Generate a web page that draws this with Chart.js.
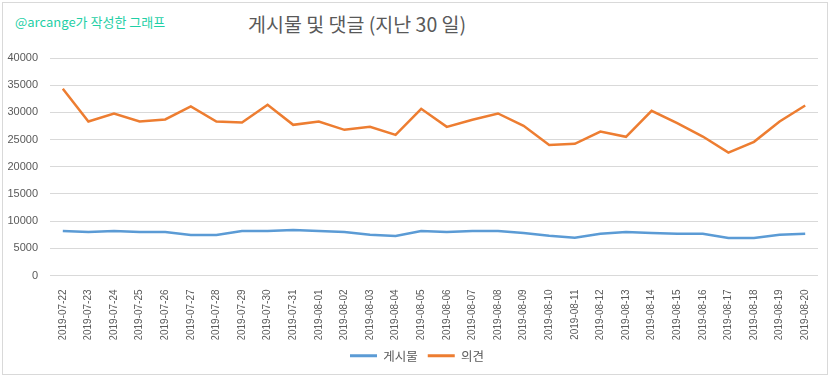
<!DOCTYPE html>
<html><head><meta charset="utf-8">
<script src="https://cdn.jsdelivr.net/npm/chart.js@4"></script>
<style>
html,body{margin:0;padding:0;background:#fff;}
#wrap{position:relative;width:832px;height:378px;}
#frame{position:absolute;left:2px;top:2px;width:826px;height:373px;border:1px solid #d9d9d9;box-sizing:border-box;}
#mark{position:absolute;left:15px;top:14px;font-family:"Noto Sans CJK KR","Noto Sans",sans-serif;font-size:13px;line-height:16px;color:#1fcfa6;}
#title{position:absolute;left:248px;top:11px;font-family:"Noto Sans CJK KR",sans-serif;font-size:19.5px;line-height:26px;color:#595959;white-space:nowrap;}
canvas{position:absolute;left:0;top:0;}
</style></head>
<body><div id="wrap"><div id="frame"></div><div id="mark">@arcange가 작성한 그래프</div><div id="title"></div><canvas id="c" width="832" height="378"></canvas></div>
<script>
const categories = ["2019-07-22","2019-07-23","2019-07-24","2019-07-25","2019-07-26","2019-07-27","2019-07-28","2019-07-29","2019-07-30","2019-07-31","2019-08-01","2019-08-02","2019-08-03","2019-08-04","2019-08-05","2019-08-06","2019-08-07","2019-08-08","2019-08-09","2019-08-10","2019-08-11","2019-08-12","2019-08-13","2019-08-14","2019-08-15","2019-08-16","2019-08-17","2019-08-18","2019-08-19","2019-08-20"];
const posts = [8170,7990,8170,7990,7990,7430,7430,8170,8170,8360,8170,7990,7500,7250,8170,7990,8170,8170,7800,7310,6940,7680,7990,7800,7680,7680,6880,6880,7500,7680];
const comments = [34350,28330,29800,28330,28700,31090,28330,28140,31400,27710,28330,26790,27340,25870,30660,27340,28630,29800,27530,24020,24210,26480,25500,30290,28020,25560,22610,24580,28330,31270];
const yTicks = [0,5000,10000,15000,20000,25000,30000,35000,40000];
const seriesNames = ["게시물","의견"];
const titleText = "게시물 및 댓글 (지난 30 일)";
document.getElementById('title').textContent = titleText;

const shiftLegend = {id:'shiftLegend', afterLayout(chart){ const l=chart.legend; if(l){ l.left+=8; l.right+=8; } }};
const tickFont = {family:"'Liberation Sans','Noto Sans',sans-serif", size:11};
new Chart(document.getElementById('c'), {
  type:'line',
  data:{labels:categories, datasets:[
    {label:seriesNames[0], data:posts, borderColor:'#5b9bd5', backgroundColor:'#5b9bd5', borderWidth:2.5, pointRadius:0, tension:0},
    {label:seriesNames[1], data:comments, borderColor:'#ed7d31', backgroundColor:'#ed7d31', borderWidth:2.5, pointRadius:0, tension:0}
  ]},
  plugins:[shiftLegend],
  options:{
    responsive:false, animation:false, devicePixelRatio:1,
    layout:{padding:{left:0, right:14, top:58, bottom:6}},
    plugins:{
      title:{display:false},
      legend:{position:'bottom', labels:{color:'#595959', font:{family:"'Noto Sans CJK KR',sans-serif", size:12.5}, boxWidth:27, boxHeight:3, padding:10,
        generateLabels:(chart)=>chart.data.datasets.map((d,i)=>({text:d.label, fillStyle:d.borderColor, strokeStyle:d.borderColor, lineWidth:0, fontColor:'#595959', datasetIndex:i, hidden:false}))}},
      tooltip:{enabled:false}
    },
    scales:{
      x:{offset:true, grid:{display:false}, border:{display:false},
         afterFit:(s)=>{s.height=64;},
         ticks:{color:'#595959', font:{family:"'Liberation Sans',sans-serif", size:10}, maxRotation:90, minRotation:90, autoSkip:false, padding:6}},
      y:{min:0, max:40000, afterBuildTicks:(s)=>{s.ticks=yTicks.map(v=>({value:v}));},
         afterFit:(s)=>{s.width=50;},
         grid:{color:'#d9d9d9', drawTicks:false, lineWidth:1}, border:{display:false},
         ticks:{color:'#595959', font:tickFont, padding:12, callback:(v)=>String(v)}}
    }
  }
});
</script></body></html>
